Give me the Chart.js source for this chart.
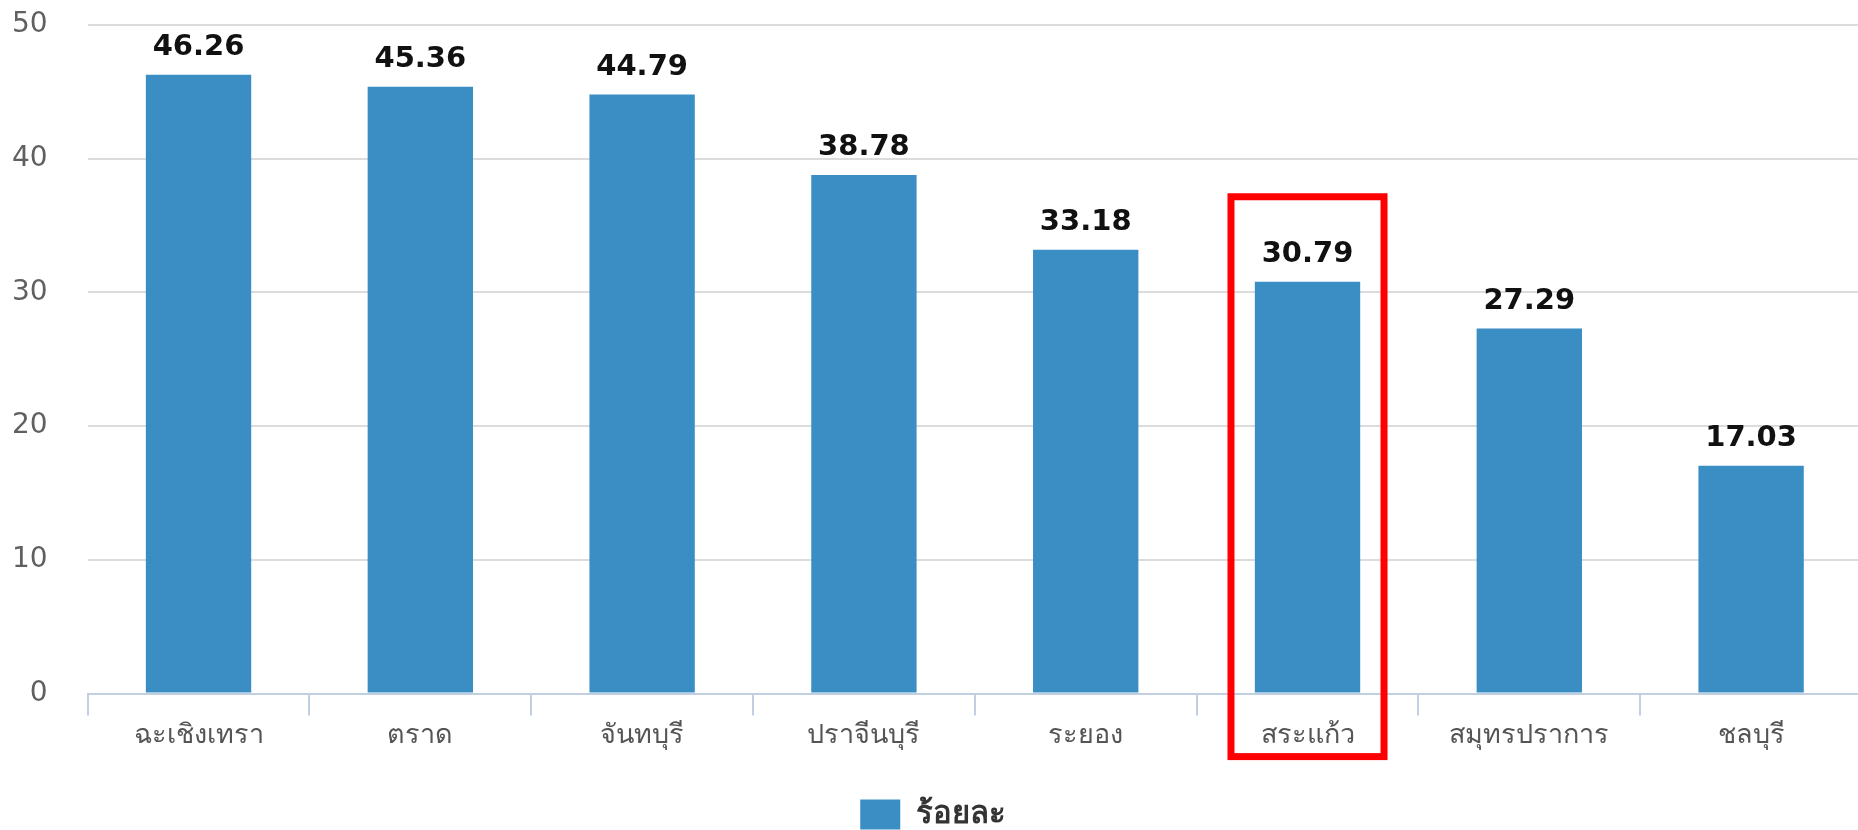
<!DOCTYPE html>
<html>
<head>
<meta charset="utf-8">
<script src="https://cdn.jsdelivr.net/npm/chart.js@4.4.1/dist/chart.umd.min.js"></script>
<style>
    html, body { margin: 0; padding: 0; background: #fff; overflow: hidden; }
    #wrap { width: 1862px; height: 860px; position: relative; }
</style>
</head>
<body>
<div id="wrap"><canvas id="province-chart"></canvas></div>
<script>
    const provinces = ['ฉะเชิงเทรา', 'ตราด', 'จันทบุรี', 'ปราจีนบุรี', 'ระยอง', 'สระแก้ว', 'สมุทรปราการ', 'ชลบุรี'];
    const percentValues = [46.26, 45.36, 44.79, 38.78, 33.18, 30.79, 27.29, 17.03];
    const seriesLabel = 'ร้อยละ';
    const yMin = 0;
    const yMax = 50;
    const yStep = 10;
    const highlightIndex = 5;

    const fontFamily = '"DejaVu Sans", "Noto Sans", sans-serif';

    // value labels above each bar
    const valueLabels = {
        id: 'valueLabels',
        afterDatasetsDraw(chart) {
            const ctx = chart.ctx;
            const meta = chart.getDatasetMeta(0);
            ctx.save();
            ctx.font = 'bold 29px ' + fontFamily;
            ctx.fillStyle = '#111';
            ctx.textAlign = 'center';
            ctx.textBaseline = 'bottom';
            meta.data.forEach((bar, i) => {
                ctx.fillText(percentValues[i].toFixed(2), bar.x, bar.y - 13);
            });
            ctx.restore();
        }
    };

    // red frame round the highlighted province
    const highlightBox = {
        id: 'highlightBox',
        afterDraw(chart) {
            const ctx = chart.ctx;
            const bar = chart.getDatasetMeta(0).data[highlightIndex];
            const catWidth = chart.scales.x.width / provinces.length;
            const left = bar.x - catWidth * 0.345;
            const right = bar.x + catWidth * 0.345;
            const top = bar.y - 85;
            const bottom = bar.base + 64;
            ctx.save();
            ctx.strokeStyle = '#ff0000';
            ctx.lineWidth = 7;
            ctx.strokeRect(left, top, right - left, bottom - top);
            ctx.restore();
        }
    };

    const config = {
        type: 'bar',
        data: {
            labels: provinces,
            datasets: [{
                label: seriesLabel,
                data: percentValues,
                backgroundColor: '#3a8ec4',
                borderWidth: 0,
                barPercentage: 0.475,
                categoryPercentage: 1
            }]
        },
        options: {
            responsive: true,
            maintainAspectRatio: false,
            animation: false,
            layout: {
                padding: { top: 0, right: 0, bottom: 20, left: 4 }
            },
            scales: {
                x: {
                    grid: {
                        offset: true,
                        drawOnChartArea: false,
                        color: '#c0d0e0',
                        lineWidth: 2,
                        tickLength: 22
                    },
                    border: { color: '#c0d0e0', width: 2 },
                    ticks: {
                        color: '#555',
                        font: { family: fontFamily, size: 27 },
                        padding: 4,
                        maxRotation: 0
                    },
                    afterFit(scale) {
                        scale.height += 33;
                    }
                },
                y: {
                    min: yMin,
                    max: yMax,
                    grid: {
                        color: '#dcdcdc',
                        lineWidth: 2,
                        drawTicks: true,
                        tickLength: 32,
                        tickColor: 'rgba(0,0,0,0)'
                    },
                    border: { display: false },
                    ticks: {
                        stepSize: yStep,
                        color: '#606060',
                        font: { family: fontFamily, size: 28 },
                        padding: 8
                    }
                }
            },
            plugins: {
                legend: {
                    position: 'bottom',
                    labels: {
                        boxWidth: 40,
                        boxHeight: 30,
                        color: '#333',
                        font: { family: fontFamily, size: 31, weight: 'bold' }
                    }
                },
                tooltip: { enabled: false }
            }
        },
        plugins: [valueLabels, highlightBox]
    };

    new Chart(document.getElementById('province-chart'), config);
</script>
</body>
</html>
